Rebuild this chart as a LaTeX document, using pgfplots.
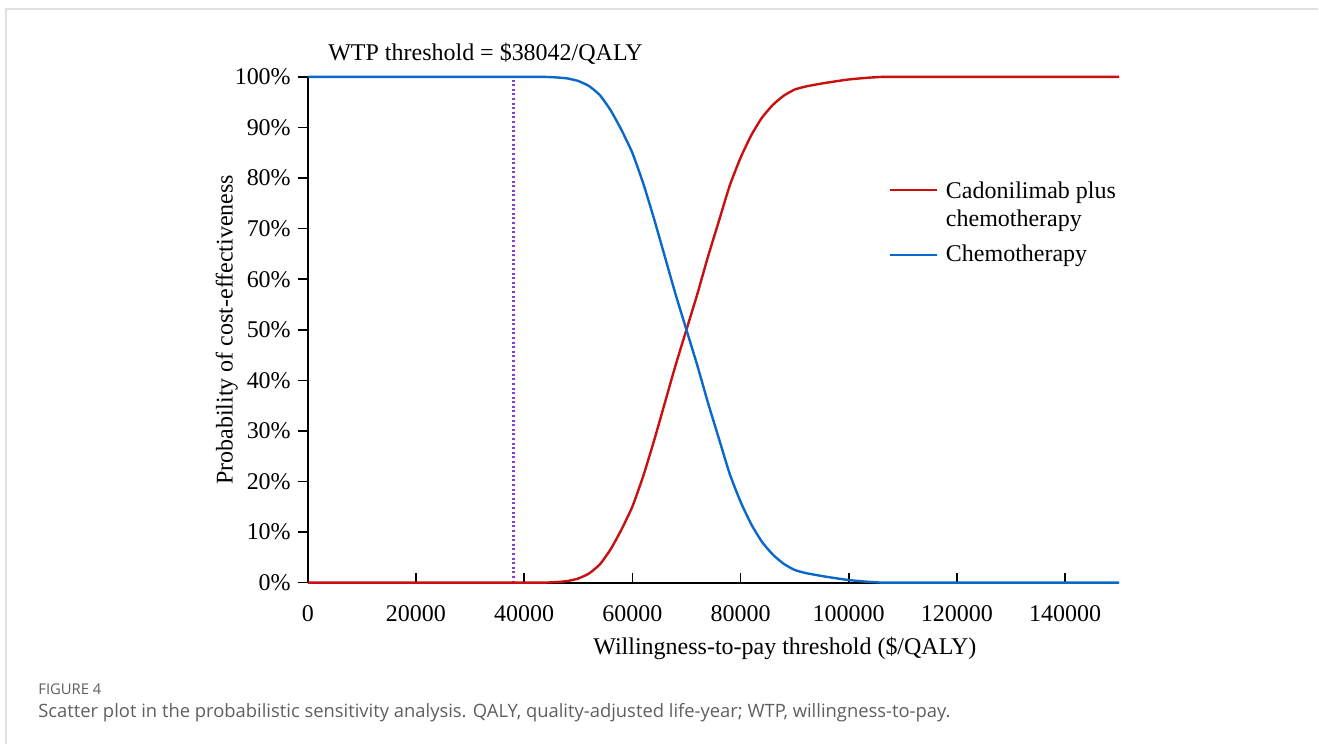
\documentclass[border=0pt]{standalone}
\usepackage{pgfplots}
\pgfplotsset{compat=1.18}
\usepackage{fontspec}
\setmainfont{Liberation Serif}
\newfontfamily\capfont{Open Sans}
\definecolor{cred}{RGB}{200,16,16}
\definecolor{cblue}{RGB}{10,104,200}
\definecolor{cpurple}{RGB}{140,60,210}
\definecolor{framegray}{RGB}{224,224,224}
\definecolor{capgray}{RGB}{95,95,95}

\pgfplotstableread{
x y
0 0
10000 0
20000 0
30000 0
40000 0
44000 0
46000 0.1
48000 0.3
50000 0.8
52000 1.8
54000 3.6
56000 6.6
58000 10.5
60000 15
62000 21
64000 28
66000 35.5
68000 43
70000 50
72000 57
74000 64.5
76000 71.5
78000 78.5
80000 84
82000 88.5
84000 92
86000 94.5
88000 96.3
90000 97.5
92000 98.1
95000 98.7
98000 99.2
100000 99.5
103000 99.8
106000 100
110000 100
150000 100
}\redtab

\pgfplotstableread{
x y
0 100
10000 100
20000 100
30000 100
40000 100
44000 100
46000 99.9
48000 99.7
50000 99.2
52000 98.2
54000 96.4
56000 93.4
58000 89.5
60000 85
62000 79
64000 72
66000 64.5
68000 57
70000 50
72000 43
74000 35.5
76000 28.5
78000 21.5
80000 16
82000 11.5
84000 8
86000 5.5
88000 3.7
90000 2.5
92000 1.9
95000 1.3
98000 0.8
100000 0.5
103000 0.2
106000 0
110000 0
150000 0
}\bluetab

\begin{document}
\begin{tikzpicture}[x=1pt,y=1pt]
\path (0,0) rectangle (659.5,372.5);
\draw[framegray, line width=1pt] (3,0) -- (3,368) -- (659.5,368);
\node[anchor=west, font=\capfont\fontsize{7.4}{9}\selectfont, text=capgray, inner sep=0] at (19,27.5) {FIGURE 4};
\node[anchor=west, font=\capfont\fontsize{9.2}{11}\selectfont, text=capgray, inner sep=0] at (19,16) {Scatter plot in the probabilistic sensitivity analysis. QALY, quality-adjusted life-year; WTP, willingness-to-pay.};
\begin{axis}[
  at={(154pt,81pt)}, anchor=south west,
  scale only axis, width=406pt, height=253pt,
  xmin=0, xmax=150000, ymin=0, ymax=100,
  clip=false,
  axis lines=left, axis line style={-, line width=1pt, black},
  tick align=outside, major tick length=5pt,
  tick style={black, line width=0.8pt},
  every major x tick/.append style={yshift=5pt},
  scaled ticks=false,
  xtick={0,20000,40000,60000,80000,100000,120000,140000},
  xticklabels={0,20000,40000,60000,80000,100000,120000,140000},
  x tick label style={yshift=-3pt},
  ytick={0,10,20,30,40,50,60,70,80,90,100},
  yticklabels={0\%,10\%,20\%,30\%,40\%,50\%,60\%,70\%,80\%,90\%,100\%},
  tick label style={font=\fontsize{12}{14}\selectfont},
  xlabel={Willingness-to-pay threshold (\$/QALY)},
  ylabel={Probability of cost-effectiveness},
  label style={font=\fontsize{12}{14}\selectfont},
  xlabel style={at={(rel axis cs:0.588,0)}, anchor=center, yshift=-33pt},
  ylabel style={at={([xshift=-40.5pt]rel axis cs:0,0.5)}, anchor=center, rotate=0},
  title={WTP threshold = \$38042/QALY},
  title style={at={(rel axis cs:0.219,1)}, anchor=base, yshift=2pt, font=\fontsize{12}{14}\selectfont},
  legend style={at={(rel axis cs:0.708,0.81)}, anchor=north west, draw=none, fill=none,
    font=\fontsize{12}{14}\selectfont, nodes={align=left}, row sep=4pt, column sep=2pt},
  legend cell align=left,
  legend image code/.code={\draw[#1] (0pt,0pt) -- (23.5pt,0pt);},
]
\addplot[cpurple, line width=1.1pt, dash pattern=on 1pt off 1.3pt, forget plot] coordinates {(38042,0) (38042,100)};
\addplot[cred, line width=1.2pt, smooth, tension=0.3,
  legend image code/.code={\draw[cred, line width=1.2pt] (0pt,7.5pt) -- (23.5pt,7.5pt);}] table[x=x,y=y] {\redtab};
\addlegendentry{Cadonilimab plus\\chemotherapy}
\addplot[cblue, line width=1.2pt, smooth, tension=0.3] table[x=x,y=y] {\bluetab};
\addlegendentry{Chemotherapy}
\end{axis}
\end{tikzpicture}
\end{document}
